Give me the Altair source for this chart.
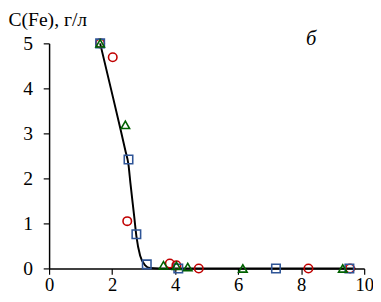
import altair as alt
import pandas as pd

# Fitted curve
curve_x = [1.62, 1.96, 2.24, 2.42, 2.52, 2.58, 2.70, 2.77, 2.89, 3.05, 3.20, 3.50, 9.72]
curve_y = [5.00, 4.00, 3.17, 2.62, 2.30, 1.90, 1.16, 0.72, 0.28, 0.07, 0.01, 0.00, 0.00]

# Series: circles (red)
circ_x = [1.62, 2.02, 2.48, 3.83, 4.04, 4.75, 8.23, 9.55]
circ_y = [5.00, 4.69, 1.05, 0.11, 0.07, 0.00, 0.00, 0.00]
# Series: triangles (green)
tri_x = [1.62, 2.42, 3.63, 4.04, 4.40, 6.15, 9.32]
tri_y = [5.00, 3.19, 0.07, 0.06, 0.03, 0.00, 0.00]
# Series: squares (blue)
sq_x = [1.62, 2.52, 2.77, 3.10, 4.10, 7.20, 9.53]
sq_y = [5.00, 2.42, 0.76, 0.09, 0.00, 0.00, 0.00]

x_ticks = [0, 2, 4, 6, 8, 10]
y_ticks = [0, 1, 2, 3, 4, 5]

FONT = "Liberation Serif"

curve = pd.DataFrame({"x": curve_x, "y": curve_y})
pts = pd.concat([
    pd.DataFrame({"x": circ_x, "y": circ_y, "s": "circ"}),
    pd.DataFrame({"x": sq_x, "y": sq_y, "s": "sq"}),
    pd.DataFrame({"x": tri_x, "y": tri_y, "s": "tri"}),
])
ann = pd.DataFrame({"x": [8.32], "y": [4.97], "t": ["б"]})

xs = alt.Scale(domain=[0, 10], nice=False)
ys = alt.Scale(domain=[0, 5], nice=False)

xaxis = alt.Axis(values=x_ticks, title=None, labelPadding=2, labelFontSize=19)
yaxis = alt.Axis(values=y_ticks, title="C(Fe), г/л", labelPadding=11, labelFontSize=20,
                 titleAngle=0, titleAlign="left", titleBaseline="alphabetic",
                 titleX=-42, titleY=-18)

line = alt.Chart(curve).mark_line(color="black", strokeWidth=2, interpolate="monotone").encode(
    x=alt.X("x:Q", scale=xs, axis=xaxis),
    y=alt.Y("y:Q", scale=ys, axis=yaxis),
)

points = alt.Chart(pts).mark_point(filled=False, strokeWidth=1.6, size=75, opacity=1, clip=False).encode(
    x=alt.X("x:Q", scale=xs, axis=xaxis),
    y=alt.Y("y:Q", scale=ys, axis=yaxis),
    shape=alt.Shape("s:N", scale=alt.Scale(domain=["circ", "sq", "tri"],
                                           range=["circle", "square", "triangle-up"]), legend=None),
    color=alt.Color("s:N", scale=alt.Scale(domain=["circ", "sq", "tri"],
                                           range=["#C00000", "#2F5597", "#006100"]), legend=None),
)

label = alt.Chart(ann).mark_text(font=FONT, fontSize=21, fontStyle="italic", baseline="alphabetic",
                                 align="center", color="black").encode(
    x=alt.X("x:Q", scale=xs, axis=xaxis), y=alt.Y("y:Q", scale=ys, axis=yaxis), text="t:N")

chart = alt.layer(line, points, label).properties(
    width=322, height=230,
    autosize=alt.AutoSizeParams(type="none"),
    padding={"left": 42, "top": 33, "right": 9, "bottom": 23},
    background="white",
).configure_view(stroke=None).configure_axis(
    grid=False, labelFont=FONT, labelColor="black",
    domainColor="black", tickColor="black", domainWidth=1.5, tickWidth=1.2, tickSize=6,
    labelFlush=False, labelOverlap=False, titleFont=FONT, titleFontSize=20,
    titleFontWeight="normal", titleColor="black",
).configure_text(font=FONT)

chart.save("out.html", embed_options={"renderer": "svg", "actions": False})
